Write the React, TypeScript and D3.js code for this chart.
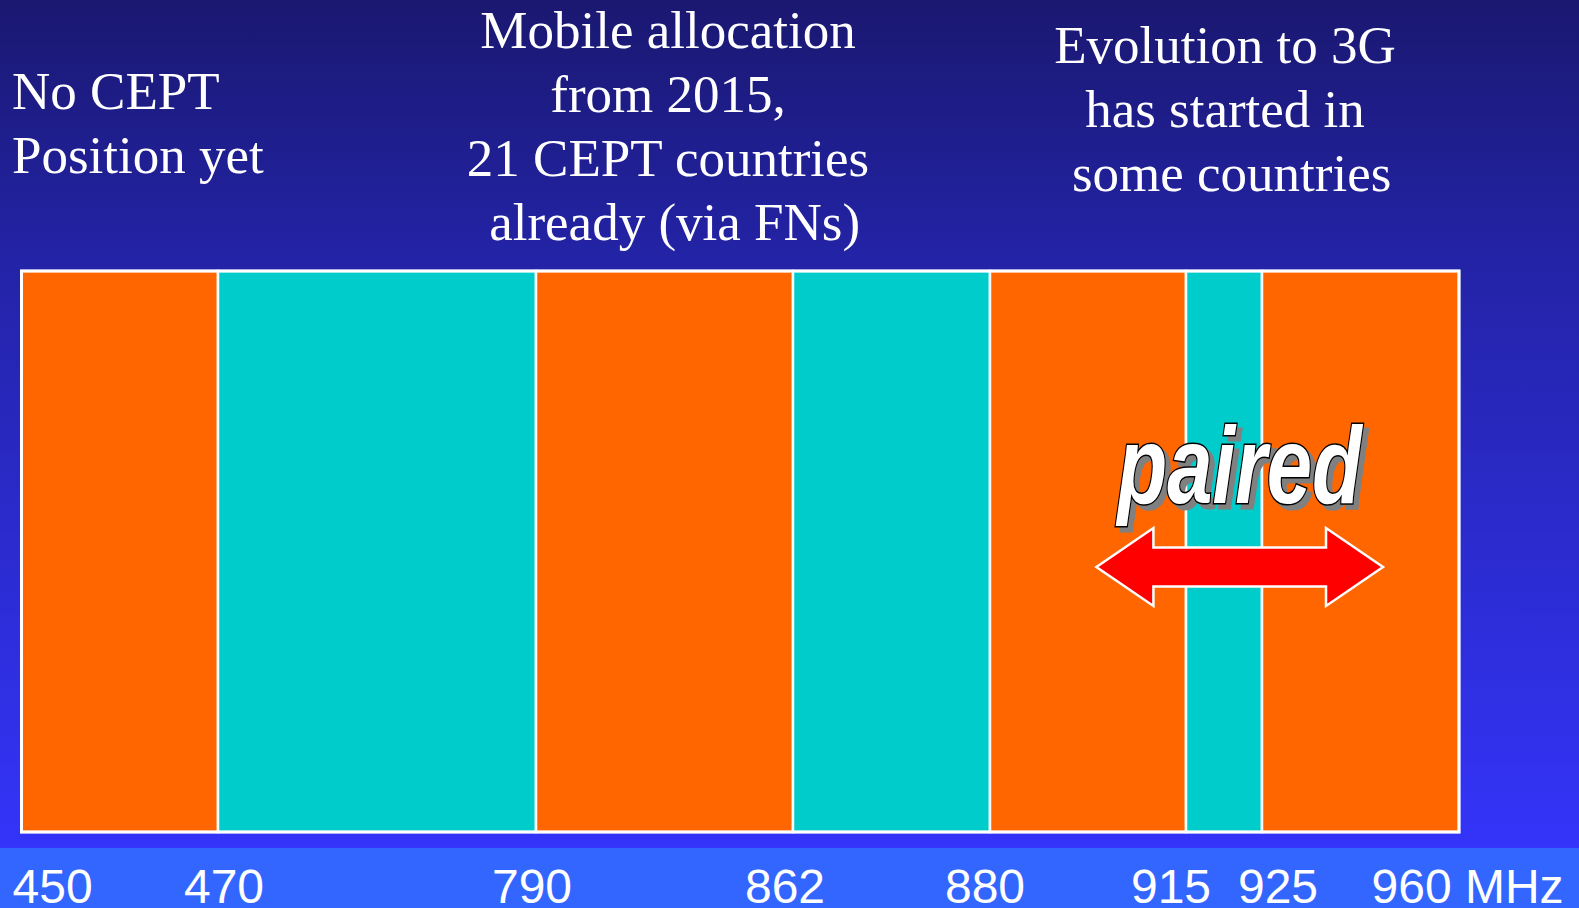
import * as d3 from 'd3'

// band edges in MHz, and which status each band between two edges has
const edgesMHz = [450, 470, 790, 862, 880, 915, 925, 960]
const bandStatus = ['other', 'mobile', 'other', 'mobile', 'other', 'mobile', 'other']
const tickUnit = 'MHz'

const noteNoCept = ['No CEPT', 'Position yet']
const noteMobile = ['Mobile allocation', 'from 2015,', '21 CEPT countries', ' already (via FNs)']
const note3G = ['Evolution to 3G', 'has started in', ' some countries']

const pairedLabel = 'paired'
const pairedSpanMHz = [899, 946.5]

const W = 1579
const H = 908
const COLORS = { other: '#FF6600', mobile: '#00CCCC' }

function App() {
  // schematic, not to scale: each edge gets its own spot on the strip
  const x = d3.scaleLinear()
    .domain(edgesMHz)
    .range([21.5, 218, 536, 793, 990, 1186, 1262, 1459])

  const top = 271
  const bottom = 832
  const bands = d3.pairs(edgesMHz).map(([a, b], i) => ({ a, b, status: bandStatus[i] }))

  // tick labels were placed by hand in the original, nudge a few
  const nudge = { 450: -9, 470: 6, 790: -4, 862: -8, 880: -5, 915: -15, 925: 16 }

  const serif = '"Liberation Serif", "Times New Roman", serif'
  const sans = '"Liberation Sans", Arial, sans-serif'

  // double arrow
  const x1 = x(pairedSpanMHz[0])
  const x2 = x(pairedSpanMHz[1])
  const cy = 567
  const head = 57
  const hh = 39
  const sh = 19.5
  const arrow = d3.path()
  arrow.moveTo(x1, cy)
  arrow.lineTo(x1 + head, cy - hh)
  arrow.lineTo(x1 + head, cy - sh)
  arrow.lineTo(x2 - head, cy - sh)
  arrow.lineTo(x2 - head, cy - hh)
  arrow.lineTo(x2, cy)
  arrow.lineTo(x2 - head, cy + hh)
  arrow.lineTo(x2 - head, cy + sh)
  arrow.lineTo(x1 + head, cy + sh)
  arrow.lineTo(x1 + head, cy + hh)
  arrow.closePath()
  const midX = (x1 + x2) / 2

  const block = (lines, xPos, y0, anchor) => (
    <text x={xPos} y={y0} fill="#fff" fontFamily={serif} fontSize={53} textAnchor={anchor} style={{ whiteSpace: 'pre' }}>
      {lines.map((l, i) => (
        <tspan key={i} x={xPos} y={y0 + i * 64}>{l}</tspan>
      ))}
    </text>
  )

  return (
    <svg width={W} height={H} style={{ position: 'absolute', left: 0, top: 0, display: 'block' }}>
      <defs>
        <linearGradient id="bg" x1="0" y1="0" x2="0" y2="1">
          <stop offset="0" stopColor="#1A1870" />
          <stop offset="0.3" stopColor="#2323A6" />
          <stop offset="1" stopColor="#3434FA" />
        </linearGradient>
      </defs>
      <rect x={0} y={0} width={W} height={848} fill="url(#bg)" />
      <rect x={0} y={848} width={W} height={H - 848} fill="#3366FF" />

      {block(noteNoCept, 12, 109, 'start')}
      {block(noteMobile, 668, 47.5, 'middle')}
      {block(note3G, 1225, 62.5, 'middle')}

      {bands.map((d, i) => (
        <rect key={i} x={x(d.a)} y={top} width={x(d.b) - x(d.a)} height={bottom - top}
          fill={COLORS[d.status]} stroke="#fff" strokeWidth={2.5} />
      ))}
      <rect x={x(edgesMHz[0])} y={top} width={x(edgesMHz[edgesMHz.length - 1]) - x(edgesMHz[0])} height={bottom - top}
        fill="none" stroke="#fff" strokeWidth={3} />

      {/* "paired" with drop shadow, condensed bold italic */}
      <g transform={`translate(${midX + 5},${503 + 5}) scale(0.74,1)`}>
        <text textAnchor="middle" fontFamily={sans} fontWeight="bold" fontStyle="italic" fontSize={110}
          fill="#808080" stroke="#808080" strokeWidth={3}>{pairedLabel}</text>
      </g>
      <g transform={`translate(${midX},503) scale(0.74,1)`}>
        <text textAnchor="middle" fontFamily={sans} fontWeight="bold" fontStyle="italic" fontSize={110}
          fill="#fff" stroke="#000" strokeWidth={3} style={{ paintOrder: 'stroke' }}>{pairedLabel}</text>
      </g>

      <path d={arrow.toString()} fill="#FF0000" stroke="#fff" strokeWidth={2.5} strokeLinejoin="miter" />

      {edgesMHz.map((v, i) => {
        const last = i === edgesMHz.length - 1
        if (last) {
          return (
            <text key={v} x={x(v) - 87.5} y={903} fill="#fff" fontFamily={sans} fontSize={48} textAnchor="start">
              {`${v} ${tickUnit}`}
            </text>
          )
        }
        const first = i === 0
        return (
          <text key={v} x={x(v) + (nudge[v] || 0)} y={903} fill="#fff" fontFamily={sans} fontSize={48}
            textAnchor={first ? 'start' : 'middle'}>{v}</text>
        )
      })}
    </svg>
  )
}

export default App
